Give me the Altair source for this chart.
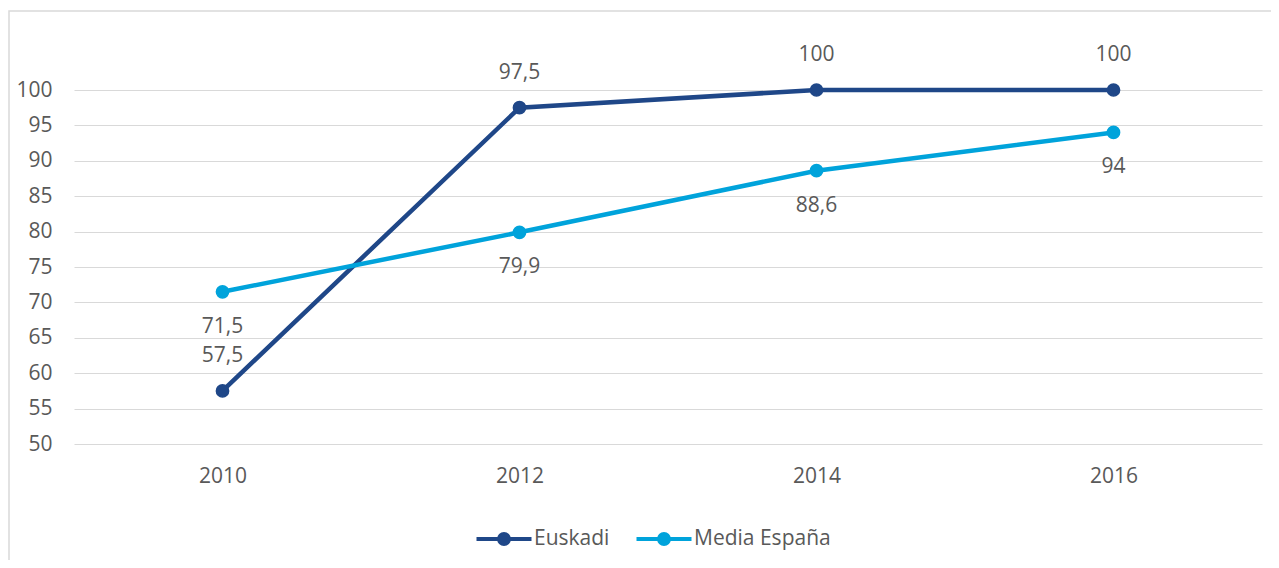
import altair as alt
import pandas as pd

years = ["2010", "2012", "2014", "2016"]
euskadi = [57.5, 97.5, 100, 100]
espana = [71.5, 79.9, 88.6, 94]
series_names = ["Euskadi", "Media España"]
colors = ["#1F4788", "#00A3DB"]
y_ticks = list(range(50, 101, 5))

rows = []
for name, vals in zip(series_names, [euskadi, espana]):
    for yr, v in zip(years, vals):
        rows.append({"year": yr, "value": v, "series": name,
                     "label": f"{v:g}".replace(".", ",")})
df = pd.DataFrame(rows)

FONT = "Open Sans"
TXT = "#595959"
FS = 21

x_enc = alt.X("year:O", title=None, sort=years,
              axis=alt.Axis(labelAngle=0, labelPadding=21, domain=False, ticks=False, grid=False))
y_enc = alt.Y("value:Q", title=None,
              scale=alt.Scale(domain=[50, 100], nice=False, zero=False),
              axis=alt.Axis(values=y_ticks, labelPadding=22, domain=False, ticks=False,
                            grid=True, gridColor="#D9D9D9", gridWidth=1))
color_scale = alt.Scale(domain=series_names, range=colors)

legend_path = ("M -2.5 0 L 2.5 0 "
               "M 0.45 0 A 0.45 0.45 0 1 1 -0.45 0 A 0.45 0.45 0 1 1 0.45 0 Z")
legend = alt.Legend(title=None, orient="none", legendX=417, legendY=436,
                    direction="horizontal", symbolType=legend_path, symbolSize=484,
                    symbolStrokeWidth=4, labelFont=FONT, labelFontSize=FS,
                    labelColor=TXT, labelOffset=17, columnPadding=18, padding=0)

base = alt.Chart(df)

border = alt.Chart(pd.DataFrame({"a": [0]})).mark_rect(
    fillOpacity=0, stroke="#D9D9D9", strokeWidth=1.5
).encode(x=alt.value(-65), x2=alt.value(1300), y=alt.value(-79), y2=alt.value(700))

lines = base.mark_line(strokeWidth=4.5).encode(
    x=x_enc, y=y_enc,
    stroke=alt.Stroke("series:N", scale=color_scale, legend=legend),
    detail="series:N",
)

points = base.mark_point(filled=True, size=150, opacity=1, strokeWidth=1.5).encode(
    x=x_enc, y=y_enc,
    fill=alt.Fill("series:N", scale=color_scale, legend=legend),
    stroke=alt.Stroke("series:N", scale=color_scale, legend=legend),
)

labels_top = base.transform_filter(alt.datum.series == "Euskadi").mark_text(
    dy=-35, font=FONT, fontSize=FS, color=TXT
).encode(x=x_enc, y=y_enc, text="label:N")

labels_bottom = base.transform_filter(alt.datum.series == "Media España").mark_text(
    dy=35, font=FONT, fontSize=FS, color=TXT
).encode(x=x_enc, y=y_enc, text="label:N")

chart = alt.layer(border, lines, points, labels_top, labels_bottom).properties(
    width=1188, height=354,
    autosize=alt.AutoSizeParams(type="none"),
    padding={"left": 66, "top": 82, "right": 9, "bottom": 116},
).configure_view(stroke=None).configure_axis(
    labelFont=FONT, labelFontSize=FS, labelColor=TXT
)

chart.save("out.html", embed_options={"renderer": "svg", "actions": False})
